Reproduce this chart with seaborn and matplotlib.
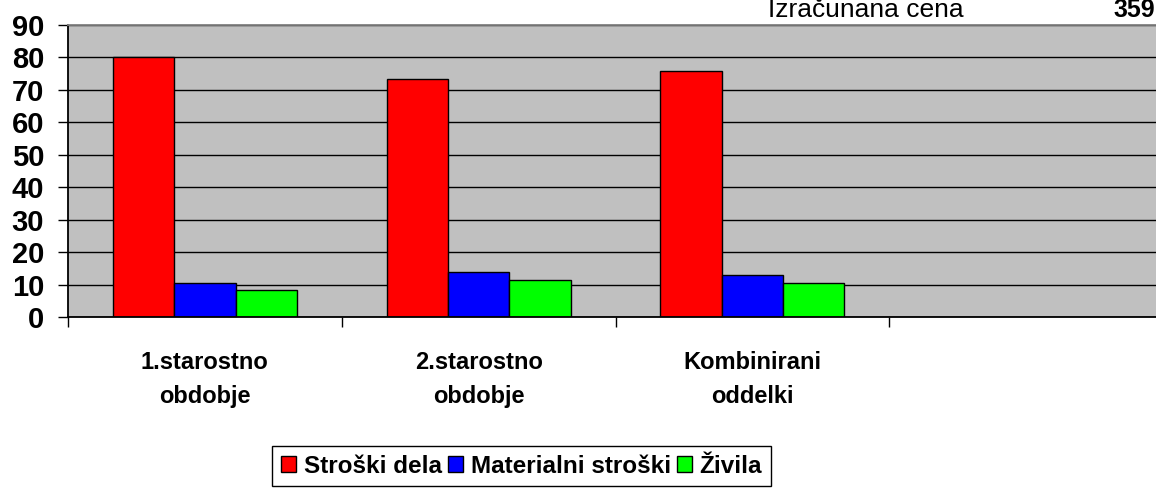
import pandas as pd
import matplotlib
matplotlib.use('Agg')
import matplotlib.pyplot as plt
import seaborn as sns

# podatki, odčitani s slike
categories = ['1.starostno\nobdobje', '2.starostno\nobdobje', 'Kombinirani\noddelki']
series = ['Stroški dela', 'Materialni stroški', 'Živila']
stroski_dela = [80.0, 73.5, 75.9]
materialni_stroski = [10.6, 13.9, 13.0]
zivila = [8.5, 11.5, 10.5]
colors = ['#FF0000', '#0000FF', '#00FF00']
yticks = list(range(0, 100, 10))

df = pd.DataFrame({
    'kategorija': categories * 3,
    'serija': [s for s in series for _ in categories],
    'vrednost': stroski_dela + materialni_stroski + zivila,
})

sns.set_style('ticks')
plt.rcParams['font.family'] = ['Liberation Sans', 'DejaVu Sans']
plt.rcParams['text.color'] = 'black'
plt.rcParams['xtick.color'] = 'black'
plt.rcParams['ytick.color'] = 'black'
plt.rcParams['xtick.labelcolor'] = 'black'
plt.rcParams['ytick.labelcolor'] = 'black'

W, H = 1156, 488
fig = plt.figure(figsize=(W / 100, H / 100), dpi=100)
ax = fig.add_axes([68 / W, (H - 317.3) / H, (1163 - 68) / W, (317.3 - 25) / H])
ax.set_facecolor('#C0C0C0')

sns.barplot(data=df, x='kategorija', y='vrednost', hue='serija',
            order=categories, hue_order=series, palette=colors,
            width=0.672, edgecolor='black', linewidth=1, saturation=1,
            errorbar=None, ax=ax)

ax.set_xlim(-0.5, 3.5)
ax.set_ylim(0, 90)
ax.set_xlabel('')
ax.set_ylabel('')

ax.set_yticks(yticks, labels=[str(v) for v in yticks], fontsize=21, fontweight='bold')
ax.tick_params(axis='y', length=7.2, width=1, pad=10)

ax.set_xticks(range(len(categories)), labels=categories, fontsize=17,
              fontweight='bold', linespacing=1.65)
ax.tick_params(axis='x', which='major', length=0, pad=24)
ax.set_xticks([-0.5, 0.5, 1.5, 2.5, 3.5], minor=True)
ax.tick_params(axis='x', which='minor', length=7.2, width=1)

ax.yaxis.grid(True, color='black', linewidth=1)
ax.set_axisbelow(True)

for side in ['left', 'bottom']:
    ax.spines[side].set_color('black')
    ax.spines[side].set_linewidth(1.3)
ax.spines['top'].set_visible(True)
ax.spines['top'].set_color('#808080')
ax.spines['top'].set_linewidth(1.3)
ax.spines['right'].set_visible(False)

handles, labels = ax.get_legend_handles_labels()
for h in handles:
    h.set_edgecolor('black')
leg = ax.legend(handles, labels, ncol=3, loc='upper center',
                bbox_to_anchor=(521.5 / W, 1 - 446 / H), bbox_transform=fig.transFigure,
                borderaxespad=0, prop={'size': 17.5, 'weight': 'bold'},
                handlelength=0.64, handleheight=0.64, handletextpad=0.3,
                columnspacing=0.25, borderpad=0.35,
                frameon=True, fancybox=False, framealpha=1, edgecolor='black')
leg.get_frame().set_linewidth(1)

fig.text(768 / W, 1 - 16.7 / H, 'Izračunana cena', fontsize=19, va='baseline')
fig.text(1113 / W, 1 - 16.7 / H, '359', fontsize=18, fontweight='bold', va='baseline')

fig.savefig('out.png', dpi=100)
